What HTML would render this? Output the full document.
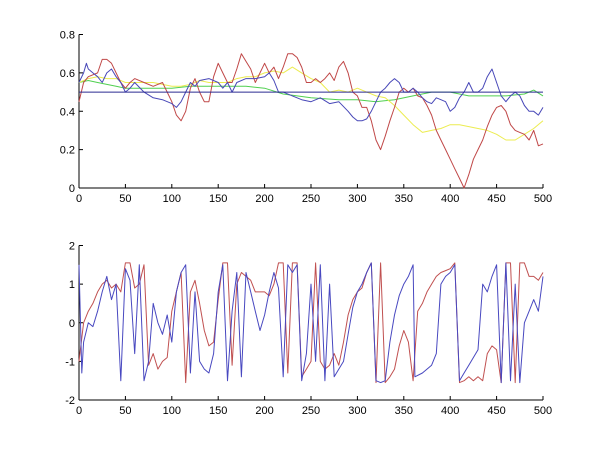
<!DOCTYPE html>
<html><head><meta charset="utf-8"><style>
body{margin:0;background:#fff}
svg{display:block;font-family:"Liberation Sans",sans-serif;font-size:11px}
</style></head><body>
<svg id="fig" width="600" height="450"></svg>
<script>
const xTicks=[0,50,100,150,200,250,300,350,400,450,500];
const topYTicks=[0,0.2,0.4,0.6,0.8];
const botYTicks=[-2,-1,0,1,2];
const refLevel=0.5;
const redTopX=[0,5,10,20,25,30,35,40,45,50,55,60,70,80,90,95,100,105,110,115,120,125,130,135,140,145,150,155,160,165,170,175,180,185,190,195,200,205,210,215,220,225,230,235,240,245,250,255,260,265,270,275,280,285,290,295,300,305,310,315,320,325,330,335,340,345,350,355,360,365,370,375,380,385,390,395,400,405,410,415,420,425,430,435,440,445,450,455,460,465,470,475,480,485,490,495,500];
const redTopY=[0.45,0.55,0.58,0.6,0.67,0.67,0.65,0.6,0.55,0.52,0.55,0.57,0.55,0.53,0.55,0.5,0.45,0.38,0.35,0.4,0.52,0.57,0.5,0.45,0.45,0.58,0.65,0.6,0.55,0.55,0.62,0.7,0.66,0.62,0.55,0.6,0.65,0.6,0.63,0.57,0.63,0.7,0.7,0.68,0.63,0.55,0.55,0.57,0.55,0.57,0.6,0.56,0.63,0.66,0.6,0.5,0.48,0.42,0.42,0.35,0.25,0.2,0.27,0.35,0.42,0.5,0.52,0.5,0.52,0.48,0.47,0.43,0.38,0.3,0.25,0.2,0.15,0.1,0.05,0.0,0.07,0.15,0.2,0.25,0.32,0.38,0.42,0.43,0.4,0.33,0.3,0.29,0.28,0.25,0.3,0.22,0.23];
const yellowX=[0,10,20,30,40,50,60,70,80,90,100,110,120,130,140,150,160,170,180,190,200,210,220,230,240,250,260,270,280,290,300,310,320,330,340,350,360,370,380,390,400,410,420,430,440,450,460,470,480,490,500];
const yellowY=[0.55,0.57,0.58,0.57,0.57,0.55,0.55,0.55,0.55,0.54,0.53,0.53,0.54,0.56,0.55,0.55,0.55,0.57,0.58,0.58,0.6,0.61,0.6,0.63,0.6,0.57,0.55,0.5,0.51,0.5,0.52,0.5,0.48,0.47,0.43,0.38,0.33,0.29,0.3,0.31,0.33,0.33,0.32,0.31,0.3,0.28,0.25,0.25,0.28,0.31,0.35];
const greenX=[0,10,20,30,40,50,100,120,150,180,200,220,250,280,300,320,340,360,380,400,420,440,460,480,490,500];
const greenY=[0.55,0.56,0.55,0.54,0.53,0.52,0.52,0.53,0.53,0.53,0.52,0.49,0.47,0.46,0.46,0.45,0.46,0.48,0.5,0.5,0.48,0.48,0.48,0.49,0.51,0.48];
const blueTopX=[0,5,8,10,15,20,25,30,35,40,45,50,55,60,70,80,90,100,105,110,115,120,125,130,140,150,155,160,165,170,180,190,200,205,210,215,220,230,240,250,260,270,280,290,295,300,305,310,315,320,325,330,335,340,345,350,355,360,365,370,375,380,385,390,395,400,405,410,415,420,425,430,435,440,445,450,455,460,465,470,475,480,485,490,495,500];
const blueTopY=[0.55,0.6,0.65,0.62,0.6,0.58,0.55,0.6,0.62,0.58,0.55,0.5,0.52,0.55,0.5,0.47,0.46,0.44,0.42,0.45,0.5,0.55,0.53,0.56,0.57,0.55,0.52,0.55,0.5,0.55,0.57,0.57,0.58,0.6,0.56,0.5,0.5,0.48,0.46,0.45,0.47,0.44,0.45,0.4,0.37,0.35,0.35,0.36,0.4,0.45,0.5,0.52,0.55,0.57,0.55,0.5,0.5,0.52,0.5,0.47,0.45,0.44,0.47,0.46,0.45,0.4,0.42,0.47,0.5,0.55,0.5,0.5,0.52,0.58,0.62,0.55,0.48,0.45,0.48,0.5,0.48,0.43,0.4,0.4,0.38,0.42];
const redBotX=[0,5,10,15,20,25,30,35,40,45,50,55,60,65,70,75,80,85,90,95,100,105,110,115,120,125,130,135,140,145,150,155,160,165,170,175,180,185,190,195,200,205,210,215,220,225,230,235,240,245,250,255,260,265,270,275,280,285,290,295,300,305,310,315,320,325,330,335,340,345,350,355,360,365,370,375,380,385,390,395,400,405,410,415,420,425,430,435,440,445,450,455,460,465,470,475,480,485,490,495,500];
const redBotY=[-1,0,0.3,0.5,0.8,1,1.1,0.9,1,0.8,1.55,1.55,0.9,1,1.5,-1.1,-0.8,-1.2,-1.0,-0.9,0.3,0.8,1.3,-1.55,0.8,1.1,0.5,-0.2,-0.6,-0.5,0.6,1.55,1.55,-1.1,1.0,1.3,1.2,1.1,0.8,0.8,0.8,0.7,1.0,1.55,1.55,-1.3,1.55,1.55,-1.4,-1.2,-1.0,1.55,-1.0,-1.2,-1.1,-0.8,-1.1,-0.5,0.2,0.6,0.8,0.9,1.3,1.55,-1.55,1.55,-1.55,-1.4,-1.2,-0.6,-0.2,-0.5,-1.5,0.3,0.5,0.8,1.0,1.2,1.3,1.35,1.4,1.55,-1.55,-1.5,-1.4,-1.5,-1.4,-1.5,-0.8,-0.6,-0.7,-1.55,1.55,1.55,-1.55,1.55,1.55,1.2,1.2,1.1,1.3];
const blueBotX=[0,3,5,10,15,20,25,30,35,40,45,50,55,60,65,70,75,80,85,90,95,100,105,110,115,120,125,130,135,140,145,150,155,160,165,170,175,180,185,190,195,200,205,210,215,220,225,230,235,240,245,250,255,260,265,270,275,280,285,290,295,300,305,310,315,320,325,330,335,340,345,350,355,360,362,370,375,380,385,390,395,400,405,410,415,420,425,430,435,440,445,450,455,460,465,470,475,480,485,490,495,500];
const blueBotY=[1.5,-1.3,-0.5,0,-0.1,0.3,0.8,1.2,0.6,1.0,-1.5,1.4,1.1,-0.8,1.5,-1.5,-1.0,0.5,0,-0.3,0.2,-0.5,0.8,1.3,1.5,-1.3,0.8,-1.0,-1.2,-1.3,-0.8,0.8,1.5,-1.5,0.3,1.3,-1.4,1.3,0.8,0.3,-0.2,0.2,0.8,1.3,0.9,-1.4,1.5,1.3,1.5,-1.5,-0.8,1.0,-1.0,1.5,-1.5,1.0,-1.4,-1.2,-1.0,-0.3,0.4,0.8,1.0,1.3,1.55,-1.5,-1.55,-1.5,-0.5,0.2,0.7,1.0,1.2,1.5,-1.4,-1.3,-1.2,-1.1,-0.8,1.0,1.2,1.3,1.5,-1.5,-1.3,-1.1,-0.9,-0.7,1.0,0.8,1.2,1.5,-1.55,1.55,-1.5,1.0,-1.55,0,0.3,0.6,0.3,1.2];

const NS='http://www.w3.org/2000/svg';
const svg=document.getElementById('fig');
function mk(t,a,p){const e=document.createElementNS(NS,t);for(const k in a)e.setAttribute(k,a[k]);(p||svg).appendChild(e);return e;}
const X0=79,X1=543;
function sx(v){return X0+(v-0)/(500-0)*(X1-X0);}
function axes(name,ymin,ymax,top,bot,yticks,ylab){
  const g=mk('g',{});
  
  
  const sy=v=>bot-(v-ymin)/(ymax-ymin)*(bot-top);
  const xa=mk('line',{x1:X0,y1:bot,x2:X1,y2:bot,stroke:'#000','stroke-width':1},g);
  
  
  const ya=mk('line',{x1:X0,y1:top,x2:X0,y2:bot,stroke:'#000','stroke-width':1},g);
  
  
  xTicks.forEach(t=>{const x=sx(t);mk('line',{x1:x,y1:bot,x2:x,y2:bot-4,stroke:'#000'},g);
    const tx=mk('text',{x:x,y:bot+14,'text-anchor':'middle'},g);tx.textContent=t;
    
    });
  yticks.forEach((t,i)=>{const y=sy(t);mk('line',{x1:X0,y1:y,x2:X0+4,y2:y,stroke:'#000'},g);
    const tx=mk('text',{x:X0-4,y:y+4,'text-anchor':'end'},g);tx.textContent=ylab[i];
    
    });
  return {g,sy};
}
function series(ax,xs,ys,color,name){
  const d=xs.map((x,i)=>(i?'L':'M')+sx(x).toFixed(1)+' '+ax.sy(ys[i]).toFixed(1)).join(' ');
  const p=mk('path',{d:d,fill:'none',stroke:color,'stroke-width':1,'stroke-linejoin':'round'},ax.g);
  
  
}
const A=axes('top-plot',0,0.8,34.5,188,topYTicks,['0','0.2','0.4','0.6','0.8']);
series(A,greenX,greenY,'#50d050','green-series');
series(A,yellowX,yellowY,'#ecec50','yellow-series');
series(A,redTopX,redTopY,'#c04848','red-series-top');
series(A,blueTopX,blueTopY,'#4848b8','blue-series-top');
const rl=mk('line',{x1:sx(0),y1:A.sy(refLevel),x2:sx(500),y2:A.sy(refLevel),stroke:'#2a2a90','stroke-width':1},A.g);


const B=axes('bottom-plot',-2,2,245.5,400,botYTicks,['-2','-1','0','1','2']);
series(B,redBotX,redBotY,'#c05050','red-series-bottom');
series(B,blueBotX,blueBotY,'#4848c0','blue-series-bottom');
</script>
</body></html>
